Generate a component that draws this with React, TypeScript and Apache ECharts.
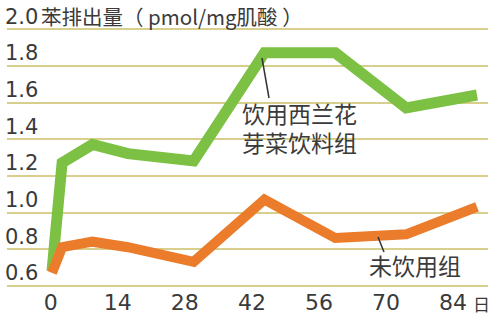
import React, { useEffect, useRef } from 'react';
import * as echarts from 'echarts';

const days = [0, 2, 8, 15, 28, 42, 56, 70, 84];
const broccoliGroup = [0.68, 1.27, 1.37, 1.32, 1.28, 1.87, 1.87, 1.57, 1.64];
const controlGroup = [0.67, 0.81, 0.84, 0.81, 0.73, 1.07, 0.86, 0.88, 1.03];
const xTicks = [0, 14, 28, 42, 56, 70, 84];
const yTicks = [0.6, 0.8, 1.0, 1.2, 1.4, 1.6, 1.8, 2.0];
const titleText = '苯排出量（ pmol/mg肌酸 ）';
const xUnit = '日';
const broccoliLabel = ['饮用西兰花', '芽菜饮料组'];
const controlLabel = '未饮用组';

const TEXT = '#3a3a3a';
const NUM_FONT = 'DejaVu Sans, sans-serif';
const CJK_FONT = '"Noto Sans CJK SC", sans-serif';

export default function App() {
  const ref = useRef<HTMLDivElement>(null);
  useEffect(() => {
    if (!ref.current) return;
    const chart = echarts.init(ref.current, undefined, { renderer: 'svg' });
    const yMin = yTicks[0];
    const yMax = yTicks[yTicks.length - 1];
    const xMin = xTicks[0];
    const xMax = xTicks[xTicks.length - 1];
    const annoStyle = {
      fontFamily: CJK_FONT,
      fontSize: 23,
      lineHeight: 27,
      fill: TEXT,
      verticalAlign: 'top',
    };
    chart.setOption({
      animation: false,
      backgroundColor: '#ffffff',
      title: {
        text: titleText,
        left: 41,
        top: 6,
        padding: 0,
        textStyle: { fontFamily: CJK_FONT, fontSize: 20.5, fontWeight: 'normal', color: TEXT },
      },
      grid: [
        { left: 52, right: 16, top: 29, bottom: 29.3 },
        { left: 7, right: 5, top: 29, bottom: 29.3 },
        { left: 50.7, right: 36, top: 29, bottom: 29.3 },
      ],
      xAxis: [
        { gridIndex: 0, type: 'value', min: xMin, max: xMax, show: false },
        { gridIndex: 1, type: 'value', min: 0, max: 1, show: false },
        {
          gridIndex: 2,
          type: 'value',
          min: xMin,
          max: xMax,
          interval: 14,
          axisLine: { show: false },
          axisTick: { show: false },
          splitLine: { show: false },
          axisLabel: { fontSize: 22, color: TEXT, fontFamily: NUM_FONT, margin: 6 },
          name: xUnit,
          nameLocation: 'end',
          nameGap: 17,
          nameTextStyle: {
            fontFamily: CJK_FONT,
            fontSize: 17,
            color: TEXT,
            verticalAlign: 'top',
            align: 'left',
            padding: [9, 0, 0, 0],
          },
        },
      ],
      yAxis: [
        { gridIndex: 0, type: 'value', min: yMin, max: yMax, show: false },
        {
          gridIndex: 1,
          type: 'value',
          min: yMin,
          max: yMax,
          interval: 0.2,
          axisLine: { show: false },
          axisTick: { show: false },
          splitLine: { show: true, lineStyle: { color: '#d8cf8c', width: 2 } },
          axisLabel: {
            inside: true,
            align: 'left',
            verticalAlign: 'bottom',
            margin: -2,
            padding: [0, 0, 2, 0],
            fontSize: 21,
            color: TEXT,
            fontFamily: NUM_FONT,
            formatter: (v: number) => v.toFixed(1),
          },
        },
        { gridIndex: 2, type: 'value', min: yMin, max: yMax, show: false },
      ],
      series: [
        {
          type: 'line',
          xAxisIndex: 0,
          yAxisIndex: 0,
          data: days.map((d, i) => [d, broccoliGroup[i]]),
          symbol: 'none',
          z: 3,
          lineStyle: { color: '#7cc143', width: 11, join: 'miter', cap: 'butt' },
        },
        {
          type: 'line',
          xAxisIndex: 0,
          yAxisIndex: 0,
          data: days.map((d, i) => [d, controlGroup[i]]),
          symbol: 'none',
          z: 4,
          lineStyle: { color: '#ea7c2c', width: 10, join: 'miter', cap: 'butt' },
        },
      ],
      graphic: [
        {
          type: 'line',
          z: 10,
          shape: { x1: 262, y1: 58, x2: 269, y2: 98 },
          style: { stroke: '#333333', lineWidth: 1.5 },
        },
        {
          type: 'text',
          z: 10,
          x: 242,
          y: 99.5,
          style: { ...annoStyle, text: broccoliLabel[0] },
        },
        {
          type: 'text',
          z: 10,
          x: 242,
          y: 128.5,
          style: { ...annoStyle, text: broccoliLabel[1] },
        },
        {
          type: 'line',
          z: 10,
          shape: { x1: 378, y1: 237, x2: 384, y2: 252 },
          style: { stroke: '#333333', lineWidth: 1.5 },
        },
        {
          type: 'text',
          z: 10,
          x: 369,
          y: 251.5,
          style: { ...annoStyle, text: controlLabel },
        },
      ],
    });
    return () => chart.dispose();
  }, []);
  return (
    <div
      ref={ref}
      style={{ position: 'fixed', left: 0, top: 0, width: 493, height: 315, background: '#fff' }}
    />
  );
}
